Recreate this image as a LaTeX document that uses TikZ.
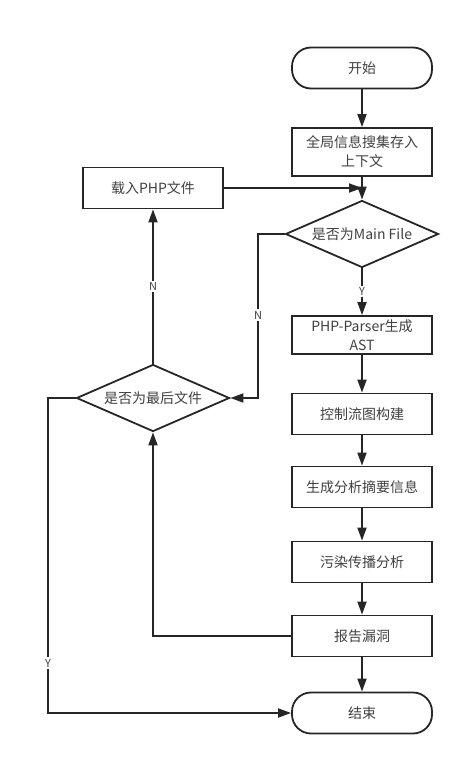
\documentclass[tikz,border=0pt]{standalone}
\usepackage{fontspec}
\setmainfont{Noto Sans CJK SC}
\usetikzlibrary{shapes.geometric,arrows.meta}
\begin{document}
\begin{tikzpicture}[x=1pt, y=-1pt, line width=1.8pt,
    font=\fontsize{14}{19}\selectfont,
    procedure/.style ={rectangle, draw=black!85, text=black!75, minimum width=140pt, minimum height=41pt, inner sep=0pt, align=center},
    terminal/.style ={procedure, rounded corners=19pt},
    decision/.style ={diamond, draw=black!85, text=black!75, aspect=2.3, inner sep=0pt, minimum width=153pt, minimum height=67pt},
    answer/.style ={fill=white, text=black!75, inner sep=1.5pt, font=\fontsize{11}{13}\selectfont},
    flow/.style ={draw=black!85, -{Triangle[length=13pt, width=9pt]}}]
   \useasboundingbox (0,0) rectangle (469,766);
   \node[terminal] (start) at (362,68) {开始};
   \node[procedure, minimum height=48pt] (collect) at (362,152) {全局信息搜集存入\\上下文};
   \node[decision] (ismain) at (362,234) {是否为Main File};
   \node[procedure] (load) at (153,188) {载入PHP文件};
   \node[procedure, minimum height=38pt] (parse) at (362,335) {PHP-Parser生成\\AST};
   \node[procedure] (cfg) at (362,414) {控制流图构建};
   \node[procedure] (summary) at (362,487) {生成分析摘要信息};
   \node[procedure] (taint) at (362,562) {污染传播分析};
   \node[procedure] (report) at (362,636) {报告漏洞};
   \node[terminal] (finish) at (362,713) {结束};
   \node[decision] (islast) at (153,398) {是否为最后文件};
   \coordinate (join) at (362,188);
   \coordinate (nbend) at (258,315);
   \coordinate (ybend) at (48,663);
   \draw[flow] (start) to (collect);
   \draw[flow] (collect) to (ismain);
   \draw[flow] (load) to (join);
   \draw[flow] (ismain) to node[answer] {Y} (parse);
   \draw[flow] (parse) to (cfg);
   \draw[flow] (cfg) to (summary);
   \draw[flow] (summary) to (taint);
   \draw[flow] (taint) to (report);
   \draw[flow] (report) to (finish);
   \draw[flow] (ismain.west) -| (nbend) node[answer] {N} |- (islast.east);
   \draw[flow] (islast) to node[answer] {N} (load);
   \draw[flow] (report.west) -| (islast.south);
   \draw[flow] (islast.west) -| (ybend) node[answer] {Y} |- (finish.west);
\end{tikzpicture}
\end{document}
